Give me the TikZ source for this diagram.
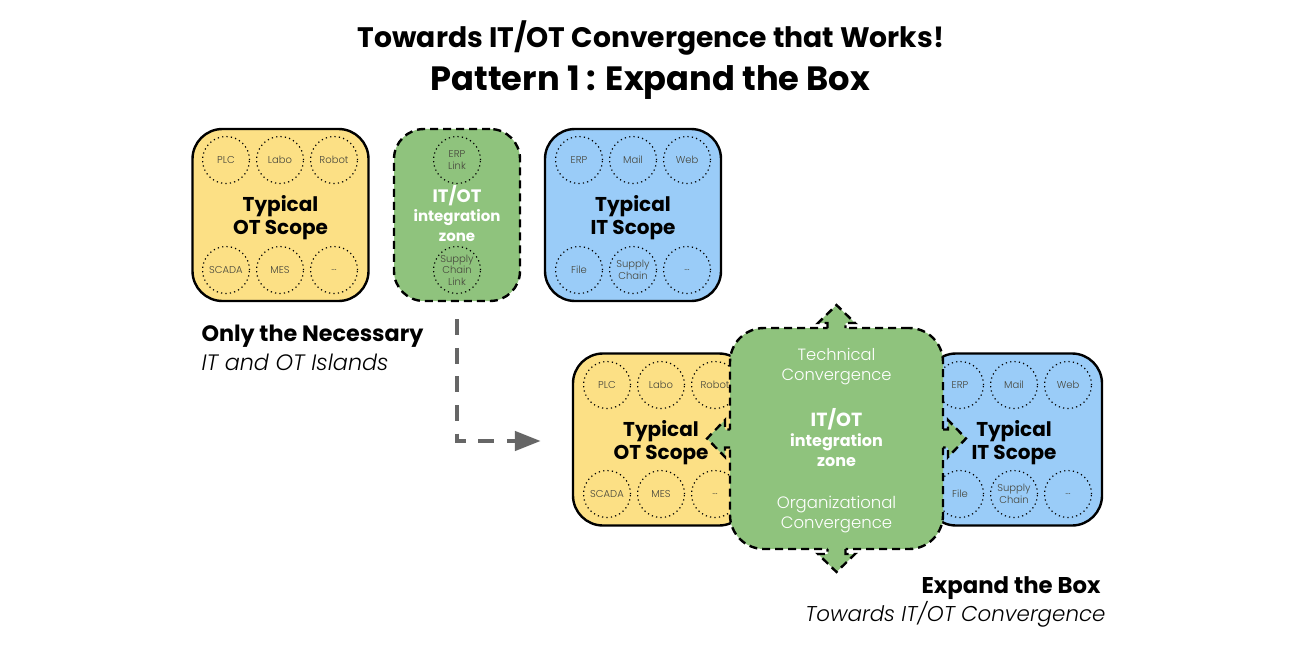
\documentclass[tikz,border=0pt]{standalone}
\usepackage{fontspec}
\setmainfont{Poppins}
\newfontfamily\lightfont{Poppins Light}[ItalicFont=Poppins Light Italic]
\usetikzlibrary{arrows.meta}

\definecolor{otyellow}{RGB}{252,224,133}
\definecolor{itblue}{RGB}{154,204,248}
\definecolor{zonegreen}{RGB}{143,195,125}
\definecolor{flowgray}{RGB}{102,102,102}
\definecolor{smalltext}{RGB}{70,70,60}

\newcommand{\fsz}[2]{\fontsize{#1}{#2}\selectfont}

\tikzset{
    scopebox/.style={draw=black, line width=2.4pt, rounded corners=30pt, inner sep=0pt,
        minimum width=176pt, minimum height=172pt},
    scopelabel/.style={align=center, font=\fsz{20}{23}\bfseries},
    zoneline/.style={draw=black, line width=2.4pt, dash pattern=on 8pt off 5pt},
    zonebox/.style={zoneline, fill=zonegreen, rounded corners=30pt, inner sep=0pt},
    system/.style={circle, draw=black, line width=1.2pt, dash pattern=on 1.2pt off 3.2pt,
        minimum size=47pt, inner sep=0pt, align=center, text=smalltext, font=\lightfont\fsz{10}{11.5}},
    flow/.style={draw=flowgray, line width=4.5pt, dash pattern=on 16pt off 12.6pt,
        -{Triangle[length=26pt,width=19pt]}},
    heading/.style={font=\fsz{#1}{#1}\bfseries},
    caption/.style={font=\fsz{#1}{24}\bfseries},
    subcaption/.style={font=\lightfont\itshape\fsz{#1}{24}},
    whitebold/.style={text=white, align=center, font=\fsz{#1}{20}\bfseries},
    whitelight/.style={text=white, align=center, font=\lightfont\fsz{#1}{20}},
}

\begin{document}
\begin{tikzpicture}[x=1pt, y=-1pt]

    \useasboundingbox (0,0) rectangle (1300,650);

    % 1. Title
    \node[heading=28.2] (title) at (651,38) {Towards IT/OT Convergence that Works!};
    \node[heading=33.7] (pattern) at (650.5,83) {Pattern 1 : Expand the Box};

    % 2. Top row: the three separate boxes
    \node[scopebox, fill=otyellow] (otA) at (280.5,215) {};
    \node[scopebox, fill=itblue] (itA) at (633,215) {};
    \node[zonebox, minimum width=126pt, minimum height=172pt] (zoneA) at (457,215) {};
    \node[scopelabel] (otAlab) at (280.5,218) {Typical\\OT Scope};
    \node[scopelabel] (itAlab) at (633,218) {Typical\\IT Scope};

    \foreach \x/\lab [count=\i] in {226/PLC, 280/Labo, 334/Robot}
        \node[system] (otAt\i) at (\x,160) {\lab};
    \foreach \x/\lab [count=\i] in {226/SCADA, 280/MES, 334/{...}}
        \node[system] (otAb\i) at (\x,270) {\lab};
    \foreach \x/\lab [count=\i] in {579/ERP, 633/Mail, 687/Web}
        \node[system] (itAt\i) at (\x,160) {\lab};
    \foreach \x/\lab [count=\i] in {579/File, 633/{Supply\\Chain}, 687/{...}}
        \node[system] (itAb\i) at (\x,270) {\lab};
    \node[system] (zoneAt) at (457,160) {ERP\\Link};
    \node[system] (zoneAb) at (457,270) {Supply\\Chain\\Link};

    \node[whitebold=18] (zoneAit) at (457,196) {IT/OT};
    \node[whitebold=15] (zoneAtxt) at (457,226) {integration\\zone};

    % 3. Caption of the top row
    \node[anchor=west, caption=22.3] (onlyA) at (198,336) {Only the Necessary};
    \node[anchor=west, subcaption=22.3] (onlyB) at (198,362) {IT and OT Islands};

    % 4. Bottom row: the box has grown over its neighbours
    \node[scopebox, fill=otyellow] (otB) at (661,439.5) {};
    \node[scopebox, fill=itblue] (itB) at (1014,439.5) {};
    \node[scopelabel] (otBlab) at (661,442.5) {Typical\\OT Scope};
    \node[scopelabel] (itBlab) at (1014,442.5) {Typical\\IT Scope};

    \foreach \x/\lab [count=\i] in {607/PLC, 661/Labo, 715/Robot}
        \node[system] (otBt\i) at (\x,385) {\lab};
    \foreach \x/\lab [count=\i] in {607/SCADA, 661/MES, 715/{...}}
        \node[system] (otBb\i) at (\x,494) {\lab};
    \foreach \x/\lab [count=\i] in {960/ERP, 1014/Mail, 1068/Web}
        \node[system] (itBt\i) at (\x,385) {\lab};
    \foreach \x/\lab [count=\i] in {960/File, 1014/{Supply\\Chain}, 1068/{...}}
        \node[system] (itBb\i) at (\x,494) {\lab};

    \node[zonebox, minimum width=213pt, minimum height=221pt, rounded corners=34pt] (zoneB) at (836.5,438.5) {};

    % Arrow heads on the four sides
    \foreach \ang/\reach in {0/106.5, 90/110.5, 180/106.5, 270/110.5} {
        \begin{scope}[shift={(zoneB.center)}, rotate=\ang]
            \fill[zonegreen] (\reach-3,-9) -- (\reach+5,-9) -- (\reach+5,-18.5) -- (\reach+23,0)
                -- (\reach+5,18.5) -- (\reach+5,9) -- (\reach-3,9) -- cycle;
            \draw[zoneline] (\reach,-9) -- (\reach+5,-9) -- (\reach+5,-18.5) -- (\reach+23,0)
                -- (\reach+5,18.5) -- (\reach+5,9) -- (\reach,9);
        \end{scope}
    }

    \node[whitelight=16.3] (zoneBtech) at (836.5,367) {Technical\\Convergence};
    \node[whitebold=19] (zoneBit) at (836.5,419) {IT/OT};
    \node[whitebold=16] (zoneBtxt) at (836.5,450) {integration\\zone};
    \node[whitelight=16.5] (zoneBorg) at (836.5,515) {Organizational\\Convergence};

    % 5. Caption of the bottom row
    \node[anchor=east, caption=22.8] (expA) at (1104,588) {Expand the Box};
    \node[anchor=east, subcaption=21.4] (expB) at (1109,614) {Towards IT/OT Convergence};

    % 6. From the top row to the bottom row
    \draw[flow, shorten <=17pt, shorten >=31pt] (zoneA.south) |- ([yshift=-1.5pt]otB.west);

\end{tikzpicture}
\end{document}
